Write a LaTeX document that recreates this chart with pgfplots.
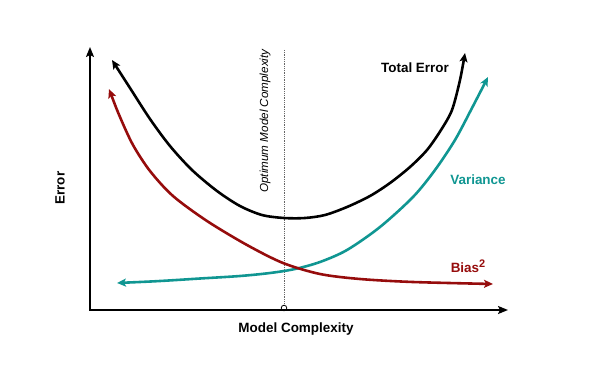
\documentclass[border=0pt]{standalone}
\usepackage{pgfplots}
\pgfplotsset{compat=1.18}
\usepackage{fontspec}
\setmainfont{Liberation Sans}
\usetikzlibrary{arrows.meta}
\definecolor{varc}{RGB}{16,150,146}
\definecolor{biasc}{RGB}{150,12,12}
\begin{document}
\begin{tikzpicture}
\begin{axis}[
  width=611bp, height=369bp, scale only axis,
  xmin=0, xmax=611, ymin=0, ymax=369, y dir=reverse,
  hide axis, clip=false,
]
\path (axis cs:0,0) rectangle (axis cs:611,369);
% axes
\addplot[black, line width=2pt, -{Stealth[length=10pt,width=8pt,inset=2pt]}] coordinates {(90,310) (90,47)};
\addplot[black, line width=2pt, -{Stealth[length=10pt,width=8pt,inset=2pt]}] coordinates {(89,310) (508,310)};
% optimum line
\addplot[gray!80!black, line width=0.8pt, densely dotted] coordinates {(284,50) (284,305)};
\addplot[black, line width=0.8pt, only marks, mark=o, mark size=2.8pt, mark options={fill=white}] coordinates {(284,308)};
% total error
\addplot[black, line width=2.6pt, smooth, {Stealth[length=9pt,width=8pt,inset=2pt]}-{Stealth[length=9pt,width=8pt,inset=2pt]}] coordinates {
(112,60) (130,88) (150,119) (170,146) (192,170) (217,191) (240,206) (262,215) (284,218) (305,218) (325,215) (347,207) (370,196) (390,183) (410,167) (427,150) (441,130) (452,110) (460,80) (465,53)};
% variance
\addplot[varc, line width=2.6pt, smooth, {Stealth[length=9pt,width=8pt,inset=2pt]}-{Stealth[length=9pt,width=8pt,inset=2pt]}] coordinates {
(117,283) (160,281) (200,278.5) (240,276) (270,273) (295,269) (320,262) (347,250) (380,227) (413,197) (435,170) (455,140) (472,108) (488,77)};
% bias
\addplot[biasc, line width=2.6pt, smooth, {Stealth[length=9pt,width=8pt,inset=2pt]}-{Stealth[length=9pt,width=8pt,inset=2pt]}] coordinates {
(109,89) (120,117) (133,145) (150,171) (173,196) (207,221) (247,245) (283,263) (320,274) (360,279) (413,282) (493,284)};
% labels
\node[font=\fontsize{13.5}{16}\selectfont\bfseries] at (axis cs:415,68) {Total Error};
\node[font=\fontsize{13.5}{16}\selectfont\bfseries, text=varc] at (axis cs:478,180) {Variance};
\node[font=\fontsize{13.5}{16}\selectfont\bfseries, text=biasc] at (axis cs:468,266) {Bias\raisebox{5pt}{\fontsize{11}{12}\selectfont 2}};
\node[font=\fontsize{13.5}{16}\selectfont\bfseries] at (axis cs:296,329) {Model Complexity};
\node[font=\fontsize{13.5}{16}\selectfont\bfseries, rotate=90] at (axis cs:60,188) {Error};
\node[font=\fontsize{11.7}{14}\selectfont\itshape, rotate=90] at (axis cs:265,121) {Optimum Model Complexity};
\end{axis}
\end{tikzpicture}
\end{document}
